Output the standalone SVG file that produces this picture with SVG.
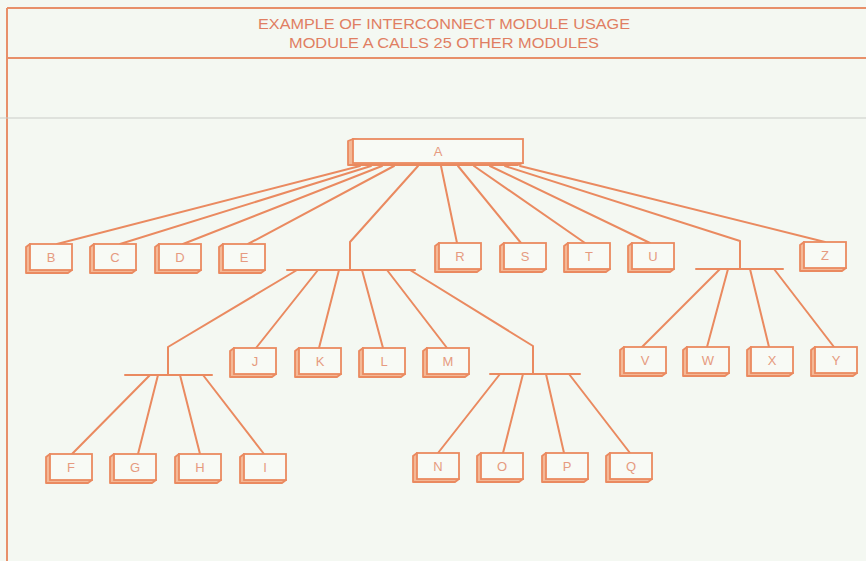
<svg xmlns="http://www.w3.org/2000/svg" width="866" height="561" viewBox="0 0 866 561">
  <style>
    .bg { fill: #f4f8f2; }
    .frame { stroke: #e8906a; stroke-width: 2; fill: none; }
    .wire { stroke: #ea8a60; stroke-width: 2; fill: none; stroke-linecap: round; stroke-linejoin: round; }
    .face { fill: #f8faf5; stroke: #ea8a60; stroke-width: 1.8; }
    .depth { fill: #f4b896; stroke: #ea8a60; stroke-width: 1.8; stroke-linejoin: round; }
    .title { font-family: "Liberation Sans", Arial, sans-serif; font-size: 14px; fill: #e07e62; text-anchor: middle; }
    .lbl { font-family: "Liberation Sans", Arial, sans-serif; font-size: 13px; fill: #e69a80; text-anchor: middle; }
  </style>
  <defs>
    <!-- module box: front face 42x26 with depth to the lower left -->
    <g id="mod">
      <polygon class="depth" points="0,0 -4,3 -4,29 38,29 42,26"/>
      <rect class="face" x="0" y="0" width="42" height="26"/>
    </g>
  </defs>

  <rect class="bg" x="0" y="0" width="866" height="561"/>

  <!-- title panel -->
  <g id="title-panel">
    <line class="frame" x1="7" y1="8" x2="866" y2="8"/>
    <line class="frame" x1="7" y1="58" x2="866" y2="58"/>
    <line class="frame" x1="7" y1="8" x2="7" y2="561"/>
    <line x1="0" y1="118" x2="866" y2="118" stroke="#c9ccc8" stroke-width="1.2"/>
    <text class="title" x="444" y="29" textLength="372" lengthAdjust="spacingAndGlyphs">EXAMPLE OF INTERCONNECT MODULE USAGE</text>
    <text class="title" x="444" y="48" textLength="310" lengthAdjust="spacingAndGlyphs">MODULE A CALLS 25 OTHER MODULES</text>
  </g>

  <!-- connectors -->
  <g id="connectors">
    <!-- from A -->
    <line class="wire" x1="360" y1="166" x2="57" y2="244"/>
    <line class="wire" x1="371" y1="166" x2="120" y2="244"/>
    <line class="wire" x1="382" y1="166" x2="183" y2="244"/>
    <line class="wire" x1="394" y1="166" x2="248" y2="244"/>
    <polyline class="wire" points="418,166 350,242 350,270"/>
    <line class="wire" x1="441" y1="166" x2="457" y2="243"/>
    <line class="wire" x1="458" y1="166" x2="521" y2="243"/>
    <line class="wire" x1="474" y1="166" x2="585" y2="243"/>
    <line class="wire" x1="490" y1="166" x2="650" y2="243"/>
    <polyline class="wire" points="505,166 740,241 740,269"/>
    <line class="wire" x1="520" y1="166" x2="825" y2="242"/>

    <!-- left bus -->
    <line class="wire" x1="287" y1="270" x2="415" y2="270"/>
    <polyline class="wire" points="297,270 168,347 168,375"/>
    <line class="wire" x1="318" y1="270" x2="256" y2="348"/>
    <line class="wire" x1="339" y1="270" x2="319" y2="348"/>
    <line class="wire" x1="362" y1="270" x2="383" y2="348"/>
    <line class="wire" x1="387" y1="270" x2="447" y2="348"/>
    <polyline class="wire" points="410,270 533,346 533,374"/>

    <!-- F..I bus -->
    <line class="wire" x1="125" y1="375" x2="212" y2="375"/>
    <line class="wire" x1="150" y1="375" x2="72" y2="454"/>
    <line class="wire" x1="158" y1="375" x2="138" y2="454"/>
    <line class="wire" x1="180" y1="375" x2="200" y2="454"/>
    <line class="wire" x1="203" y1="375" x2="264" y2="454"/>

    <!-- N..Q bus -->
    <line class="wire" x1="490" y1="374" x2="580" y2="374"/>
    <line class="wire" x1="500" y1="374" x2="438" y2="453"/>
    <line class="wire" x1="523" y1="374" x2="503" y2="453"/>
    <line class="wire" x1="546" y1="374" x2="564" y2="453"/>
    <line class="wire" x1="569" y1="374" x2="630" y2="453"/>

    <!-- V..Y bus -->
    <line class="wire" x1="696" y1="269" x2="783" y2="269"/>
    <line class="wire" x1="720" y1="269" x2="642" y2="347"/>
    <line class="wire" x1="728" y1="269" x2="707" y2="347"/>
    <line class="wire" x1="750" y1="269" x2="769" y2="347"/>
    <line class="wire" x1="774" y1="269" x2="834" y2="347"/>
  </g>

  <!-- top module -->
  <g id="node-A">
    <polygon class="depth" points="353,139 348,141 348,165 518,165 523,163"/>
    <rect class="face" x="353" y="139" width="170" height="24"/>
    <text class="lbl" x="438" y="156">A</text>
  </g>

  <!-- called modules -->
  <g id="node-B"><use href="#mod" x="30" y="244"/><text class="lbl" x="51" y="262">B</text></g>
  <g id="node-C"><use href="#mod" x="94" y="244"/><text class="lbl" x="115" y="262">C</text></g>
  <g id="node-D"><use href="#mod" x="159" y="244"/><text class="lbl" x="180" y="262">D</text></g>
  <g id="node-E"><use href="#mod" x="223" y="244"/><text class="lbl" x="244" y="262">E</text></g>
  <g id="node-R"><use href="#mod" x="439" y="243"/><text class="lbl" x="460" y="261">R</text></g>
  <g id="node-S"><use href="#mod" x="504" y="243"/><text class="lbl" x="525" y="261">S</text></g>
  <g id="node-T"><use href="#mod" x="568" y="243"/><text class="lbl" x="589" y="261">T</text></g>
  <g id="node-U"><use href="#mod" x="632" y="243"/><text class="lbl" x="653" y="261">U</text></g>
  <g id="node-Z"><use href="#mod" x="804" y="242"/><text class="lbl" x="825" y="260">Z</text></g>

  <g id="node-J"><use href="#mod" x="234" y="348"/><text class="lbl" x="255" y="366">J</text></g>
  <g id="node-K"><use href="#mod" x="299" y="348"/><text class="lbl" x="320" y="366">K</text></g>
  <g id="node-L"><use href="#mod" x="363" y="348"/><text class="lbl" x="384" y="366">L</text></g>
  <g id="node-M"><use href="#mod" x="427" y="348"/><text class="lbl" x="448" y="366">M</text></g>

  <g id="node-V"><use href="#mod" x="624" y="347"/><text class="lbl" x="645" y="365">V</text></g>
  <g id="node-W"><use href="#mod" x="687" y="347"/><text class="lbl" x="708" y="365">W</text></g>
  <g id="node-X"><use href="#mod" x="751" y="347"/><text class="lbl" x="772" y="365">X</text></g>
  <g id="node-Y"><use href="#mod" x="815" y="347"/><text class="lbl" x="836" y="365">Y</text></g>

  <g id="node-F"><use href="#mod" x="50" y="454"/><text class="lbl" x="71" y="472">F</text></g>
  <g id="node-G"><use href="#mod" x="114" y="454"/><text class="lbl" x="135" y="472">G</text></g>
  <g id="node-H"><use href="#mod" x="179" y="454"/><text class="lbl" x="200" y="472">H</text></g>
  <g id="node-I"><use href="#mod" x="244" y="454"/><text class="lbl" x="265" y="472">I</text></g>

  <g id="node-N"><use href="#mod" x="417" y="453"/><text class="lbl" x="438" y="471">N</text></g>
  <g id="node-O"><use href="#mod" x="481" y="453"/><text class="lbl" x="502" y="471">O</text></g>
  <g id="node-P"><use href="#mod" x="546" y="453"/><text class="lbl" x="567" y="471">P</text></g>
  <g id="node-Q"><use href="#mod" x="610" y="453"/><text class="lbl" x="631" y="471">Q</text></g>
</svg>
